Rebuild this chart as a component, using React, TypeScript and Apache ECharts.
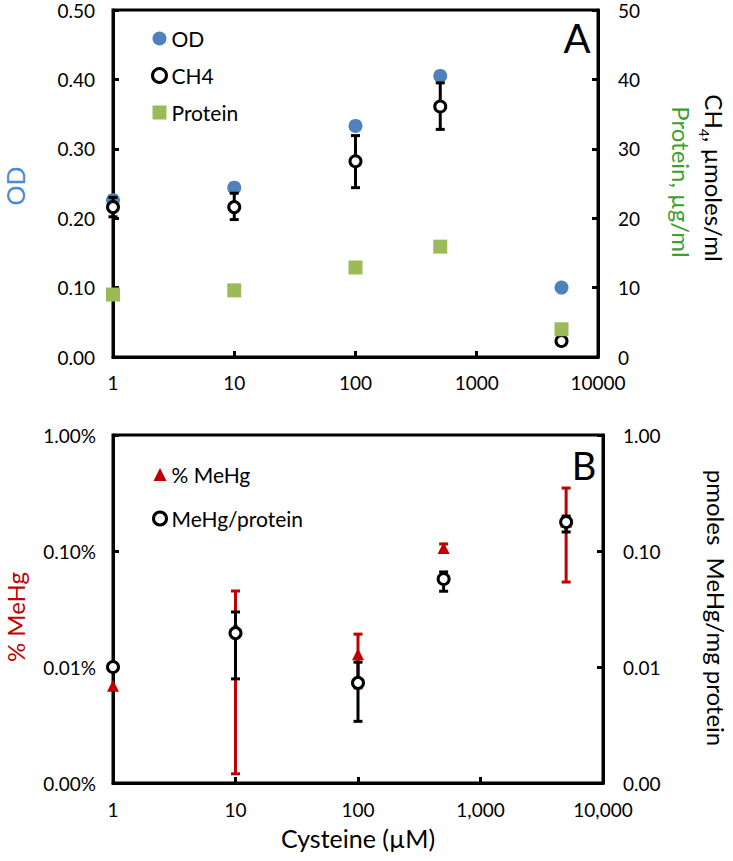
import React, { useEffect, useRef } from 'react';
import * as echarts from 'echarts';

// ---- Data ----
const cysteine = [1, 10, 100, 500, 5000];

// Panel A
const odValues = [0.226, 0.244, 0.333, 0.405, 0.1];
const ch4Values = [21.6, 21.6, 28.2, 36.1, 2.3];
const ch4Low = [20.2, 19.8, 24.4, 32.8, 2.3];
const ch4High = [23.0, 23.6, 31.9, 39.5, 2.3];
const proteinValues = [9.0, 9.6, 12.9, 15.9, 4.0];

// Panel B
const pctMeHg = [0.0069, 0.022, 0.0129, 0.106, 0.18];
const pctMeHgLow = [0.0069, 0.0012, 0.0066, 0.098, 0.054];
const pctMeHgHigh = [0.0069, 0.0452, 0.0192, 0.115, 0.349];
const meHgProtein = [0.01, 0.0196, 0.0073, 0.0574, 0.178];
const meHgProteinLow = [0.01, 0.0079, 0.0034, 0.045, 0.146];
const meHgProteinHigh = [0.01, 0.0298, 0.011, 0.066, 0.2];

const topXTickLabels = ['1', '10', '100', '1000', '10000'];
const bottomXTickLabels = ['1', '10', '100', '1,000', '10,000'];

const FONT = 'Lato, "Open Sans", sans-serif';
const OD_BLUE = '#4f81bd';
const PROT_GREEN = '#9bbb59';
const RED = '#c00000';

function pairs(xs: number[], ys: number[]) {
  return xs.map((x, i) => [x, ys[i]]);
}
function errData(xs: number[], lo: number[], hi: number[]) {
  return xs.map((x, i) => [x, lo[i], hi[i]]);
}

function errorRender(color: string) {
  return (params: any, api: any) => {
    const x = api.value(0);
    const lo = api.value(1);
    const hi = api.value(2);
    if (Math.abs(hi - lo) < 1e-12) return { type: 'group', children: [] };
    const p1 = api.coord([x, lo]);
    const p2 = api.coord([x, hi]);
    const w = 4.5;
    const style = { stroke: color, lineWidth: 3 };
    return {
      type: 'group',
      children: [
        { type: 'line', shape: { x1: p1[0], y1: p1[1], x2: p2[0], y2: p2[1] }, style },
        { type: 'line', shape: { x1: p1[0] - w, y1: p1[1], x2: p1[0] + w, y2: p1[1] }, style },
        { type: 'line', shape: { x1: p2[0] - w, y1: p2[1], x2: p2[0] + w, y2: p2[1] }, style },
      ],
    };
  };
}

function logTickIndex(v: number) {
  return Math.round(Math.log10(v));
}

const axisCommon = {
  axisLine: { show: true, lineStyle: { color: '#000', width: 3 } },
  axisTick: { show: true, inside: true, length: 6, lineStyle: { color: '#000', width: 3 } },
  splitLine: { show: false },
  minorTick: { show: false },
};

export default function App() {
  const ref = useRef<HTMLDivElement>(null);
  useEffect(() => {
    if (!ref.current) return;
    const chart = echarts.init(ref.current, null, { renderer: 'svg' });
    const labelStyle = { color: '#000', fontSize: 19, fontFamily: FONT, lineHeight: 15 };
    const legendText = { fontSize: 21, fontFamily: FONT, color: '#000', lineHeight: 20 };
    const option: any = {
      animation: false,
      backgroundColor: '#fff',
      grid: [
        { left: 113, top: 10, right: 135, bottom: 504, show: true, borderColor: '#000', borderWidth: 3, backgroundColor: 'transparent' },
        { left: 113, top: 435, right: 130, bottom: 78, show: true, borderColor: '#000', borderWidth: 3, backgroundColor: 'transparent' },
      ],
      xAxis: [
        {
          gridIndex: 0, type: 'log', logBase: 10, min: 1, max: 10000, ...axisCommon,
          axisLabel: { ...labelStyle, margin: 18, formatter: (v: number) => topXTickLabels[logTickIndex(v)] },
        },
        {
          gridIndex: 1, type: 'log', logBase: 10, min: 1, max: 10000, ...axisCommon,
          axisLabel: { ...labelStyle, margin: 19, formatter: (v: number) => bottomXTickLabels[logTickIndex(v)] },
        },
      ],
      yAxis: [
        {
          gridIndex: 0, type: 'value', min: 0, max: 0.5, interval: 0.1, position: 'left', ...axisCommon,
          axisLabel: { ...labelStyle, margin: 18, formatter: (v: number) => v.toFixed(2) },
        },
        {
          gridIndex: 0, type: 'value', min: 0, max: 50, interval: 10, position: 'right', ...axisCommon,
          axisLabel: { ...labelStyle, margin: 20, formatter: (v: number) => String(Math.round(v)) },
        },
        {
          gridIndex: 1, type: 'log', logBase: 10, min: 0.001, max: 1, position: 'left', ...axisCommon,
          axisLabel: { ...labelStyle, margin: 17, formatter: (v: number) => v.toFixed(2) + '%' },
        },
        {
          gridIndex: 1, type: 'log', logBase: 10, min: 0.001, max: 1, position: 'right', ...axisCommon,
          axisLabel: { ...labelStyle, margin: 20, formatter: (v: number) => v.toFixed(2) },
        },
      ],
      legend: [
        {
          data: ['OD', { name: 'CH4', itemStyle: { borderWidth: 3 } }, 'Protein'],
          orient: 'vertical', left: 146, top: 23,
          itemWidth: 14, itemHeight: 14, itemGap: 16,
          textStyle: legendText,
        },
        {
          data: ['% MeHg', { name: 'MeHg/protein', itemStyle: { borderWidth: 3 } }],
          orient: 'vertical', left: 147, top: 459,
          itemWidth: 13, itemHeight: 13, itemGap: 23,
          textStyle: legendText,
        },
      ],
      series: [
        {
          name: 'OD', type: 'scatter', xAxisIndex: 0, yAxisIndex: 0, symbol: 'circle', symbolSize: 14,
          itemStyle: { color: OD_BLUE, opacity: 1 }, data: pairs(cysteine, odValues), clip: false, z: 3,
        },
        {
          name: 'CH4 err', type: 'custom', xAxisIndex: 0, yAxisIndex: 1, renderItem: errorRender('#000'),
          encode: { x: 0, y: [1, 2] }, data: errData(cysteine, ch4Low, ch4High), clip: false, z: 4,
        },
        {
          name: 'CH4', type: 'scatter', xAxisIndex: 0, yAxisIndex: 1, symbol: 'circle', symbolSize: 11,
          itemStyle: { color: '#fff', borderColor: '#000', borderWidth: 3, opacity: 1 }, data: pairs(cysteine, ch4Values), clip: false, z: 5,
        },
        {
          name: 'Protein', type: 'scatter', xAxisIndex: 0, yAxisIndex: 1, symbol: 'rect', symbolSize: 14,
          itemStyle: { color: PROT_GREEN, opacity: 1 }, data: pairs(cysteine, proteinValues), clip: false, z: 5,
        },
        {
          name: '% MeHg err', type: 'custom', xAxisIndex: 1, yAxisIndex: 2, renderItem: errorRender(RED),
          encode: { x: 0, y: [1, 2] }, data: errData(cysteine, pctMeHgLow, pctMeHgHigh), clip: false, z: 3,
        },
        {
          name: '% MeHg', type: 'scatter', xAxisIndex: 1, yAxisIndex: 2, symbol: 'triangle', symbolSize: 12,
          itemStyle: { color: RED, opacity: 1 }, data: pairs(cysteine, pctMeHg), clip: false, z: 3,
        },
        {
          name: 'MeHg/protein err', type: 'custom', xAxisIndex: 1, yAxisIndex: 3, renderItem: errorRender('#000'),
          encode: { x: 0, y: [1, 2] }, data: errData(cysteine, meHgProteinLow, meHgProteinHigh), clip: false, z: 4,
        },
        {
          name: 'MeHg/protein', type: 'scatter', xAxisIndex: 1, yAxisIndex: 3, symbol: 'circle', symbolSize: 11,
          itemStyle: { color: '#fff', borderColor: '#000', borderWidth: 3, opacity: 1 }, data: pairs(cysteine, meHgProtein), clip: false, z: 5,
        },
      ],
      graphic: [
        {
          type: 'text', x: 15, y: 186, rotation: Math.PI / 2,
          style: { text: 'OD', fill: '#4a8bd0', font: `25px ${FONT}`, align: 'center', verticalAlign: 'middle' },
        },
        {
          type: 'text', x: 716, y: 178, rotation: -Math.PI / 2,
          style: {
            text: '{a|CH}{s|4}{a|, µmoles/ml}', align: 'center', verticalAlign: 'middle',
            rich: {
              a: { fontSize: 24, fontFamily: FONT, fill: '#000', lineHeight: 28, verticalAlign: 'bottom' },
              s: { fontSize: 14, fontFamily: FONT, fill: '#000', lineHeight: 28, verticalAlign: 'bottom', padding: [0, 0, -5, 0] },
            },
          },
        },
        {
          type: 'text', x: 681, y: 182, rotation: -Math.PI / 2,
          style: { text: 'Protein, µg/ml', fill: '#3ca02c', font: `24px ${FONT}`, align: 'center', verticalAlign: 'middle' },
        },
        {
          type: 'text', x: 577, y: 38,
          style: { text: 'A', fill: '#000', font: `40px ${FONT}`, align: 'center', verticalAlign: 'middle' },
        },
        {
          type: 'text', x: 15, y: 617, rotation: Math.PI / 2,
          style: { text: '% MeHg', fill: RED, font: `24px ${FONT}`, align: 'center', verticalAlign: 'middle' },
        },
        {
          type: 'text', x: 716, y: 608, rotation: -Math.PI / 2,
          style: { text: 'pmoles  MeHg/mg protein', fill: '#000', font: `24px ${FONT}`, align: 'center', verticalAlign: 'middle' },
        },
        {
          type: 'text', x: 584, y: 465,
          style: { text: 'B', fill: '#000', font: `38px ${FONT}`, align: 'center', verticalAlign: 'middle' },
        },
        {
          type: 'text', x: 358, y: 838,
          style: { text: 'Cysteine (µM)', fill: '#000', font: `25px ${FONT}`, align: 'center', verticalAlign: 'middle' },
        },
      ],
    };
    chart.setOption(option);
    return () => chart.dispose();
  }, []);
  return (
    <div
      ref={ref}
      style={{ position: 'fixed', left: 0, top: 0, width: 733, height: 861, background: '#fff' }}
    />
  );
}
